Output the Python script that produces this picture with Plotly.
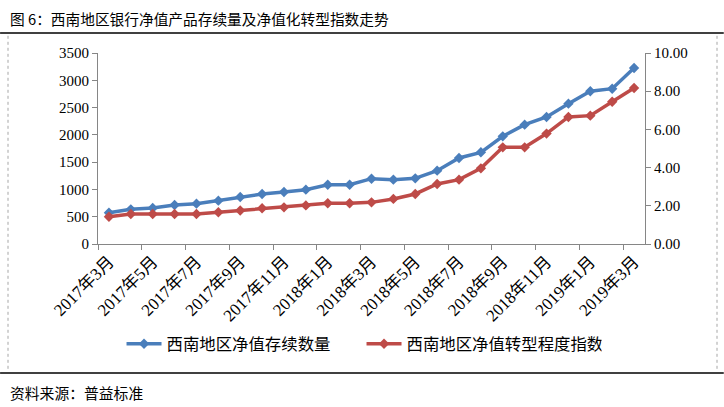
import plotly.graph_objects as go

months = ["2017年3月", "2017年4月", "2017年5月", "2017年6月", "2017年7月", "2017年8月",
          "2017年9月", "2017年10月", "2017年11月", "2017年12月", "2018年1月", "2018年2月",
          "2018年3月", "2018年4月", "2018年5月", "2018年6月", "2018年7月", "2018年8月",
          "2018年9月", "2018年10月", "2018年11月", "2018年12月", "2019年1月", "2019年2月",
          "2019年3月"]
count_values = [574, 635, 660, 715, 739, 794, 861, 916, 953, 996, 1087, 1087,
                1197, 1179, 1203, 1344, 1576, 1680, 1973, 2187, 2327, 2572, 2798, 2846, 3225]
index_values = [1.43, 1.57, 1.57, 1.57, 1.57, 1.66, 1.75, 1.87, 1.92, 2.02, 2.13, 2.13,
                2.18, 2.36, 2.62, 3.14, 3.37, 3.96, 5.06, 5.06, 5.78, 6.65, 6.72, 7.45, 8.17]
left_ticks = [0, 500, 1000, 1500, 2000, 2500, 3000, 3500]
right_ticks = [0, 2, 4, 6, 8, 10]

title_text = "图 6：西南地区银行净值产品存续量及净值化转型指数走势"
source_text = "资料来源：普益标准"
name_count = "西南地区净值存续数量"
name_index = "西南地区净值转型程度指数"

xs = list(range(len(months)))
label_idx = xs[::2]

CJK = "Noto Sans CJK SC"
SERIF = "Liberation Serif"
BLUE = "#4A7EBB"
RED = "#BE4B48"
AX = "#868686"

fig = go.Figure()
fig.add_trace(go.Scatter(x=xs, y=count_values, name=name_count, mode="lines+markers",
                         line=dict(color=BLUE, width=3.5),
                         marker=dict(symbol="diamond", size=8, color=BLUE)))
fig.add_trace(go.Scatter(x=xs, y=index_values, name=name_index, mode="lines+markers",
                         yaxis="y2",
                         line=dict(color=RED, width=3.5),
                         marker=dict(symbol="diamond", size=8, color=RED)))

fig.update_layout(
    width=724, height=407,
    margin=dict(l=98, r=79, t=53, b=163, autoexpand=False),
    paper_bgcolor="white", plot_bgcolor="white",
    showlegend=True,
    legend=dict(orientation="h", x=0.043, xanchor="left", y=-0.524, yanchor="middle",
                font=dict(family=CJK, size=16.4, color="#000"),
                entrywidth=190, entrywidthmode="pixels",
                itemwidth=35, traceorder="normal"),
    xaxis=dict(range=[-0.5, 24.5], tickmode="array", tickvals=label_idx,
               ticktext=[months[i] for i in label_idx], tickangle=-45,
               ticks="", showgrid=False, zeroline=False, automargin=False,
               showline=True, linecolor=AX, linewidth=1,
               tickfont=dict(family=SERIF + ", " + CJK, size=17, color="#000"),
               minor=dict(ticks="outside", ticklen=5, tickcolor=AX,
                          tickmode="array", tickvals=[i - 0.5 for i in label_idx],
                          showgrid=False)),
    yaxis=dict(range=[0, 3500], tickvals=left_ticks, ticks="outside", ticklen=5,
               tickcolor=AX, showgrid=False, zeroline=False, showline=True,
               linecolor=AX, linewidth=1, automargin=False,
               tickfont=dict(family=SERIF, size=15, color="#000")),
    yaxis2=dict(range=[0, 10], tickvals=right_ticks, tickformat=".2f", overlaying="y",
                side="right", ticks="outside", ticklen=5, tickcolor=AX, automargin=False,
                showgrid=False, zeroline=False, showline=True, linecolor=AX, linewidth=1,
                tickfont=dict(family=SERIF, size=15, color="#000")),
)

fig.add_annotation(text=title_text, xref="paper", yref="paper", x=-0.165, y=1.183,
                   xanchor="left", yanchor="middle", showarrow=False,
                   font=dict(family=CJK, size=14.7, color="#000"))
fig.add_annotation(text=source_text, xref="paper", yref="paper", x=-0.165, y=-0.78,
                   xanchor="left", yanchor="middle", showarrow=False,
                   font=dict(family=CJK, size=14.8, color="#000"))
fig.add_shape(type="line", xref="paper", yref="paper", x0=-0.179, x1=1.144,
              y0=1.105, y1=1.105, line=dict(color="#000", width=1.5))
fig.add_shape(type="line", xref="paper", yref="paper", x0=-0.179, x1=1.144,
              y0=-0.675, y1=-0.675, line=dict(color="#000", width=1.5))
# dashed chart-area border (left and right edges)
for px in (8, 717):
    xp = (px - 98) / 547
    fig.add_shape(type="line", xref="paper", yref="paper", x0=xp, x1=xp,
                  y0=1.09, y1=-0.66, line=dict(color="#A6A6A6", width=1, dash="dot"))

fig.write_html("out.html", post_script="document.body.style.margin='0';",
               config={"displayModeBar": False})
